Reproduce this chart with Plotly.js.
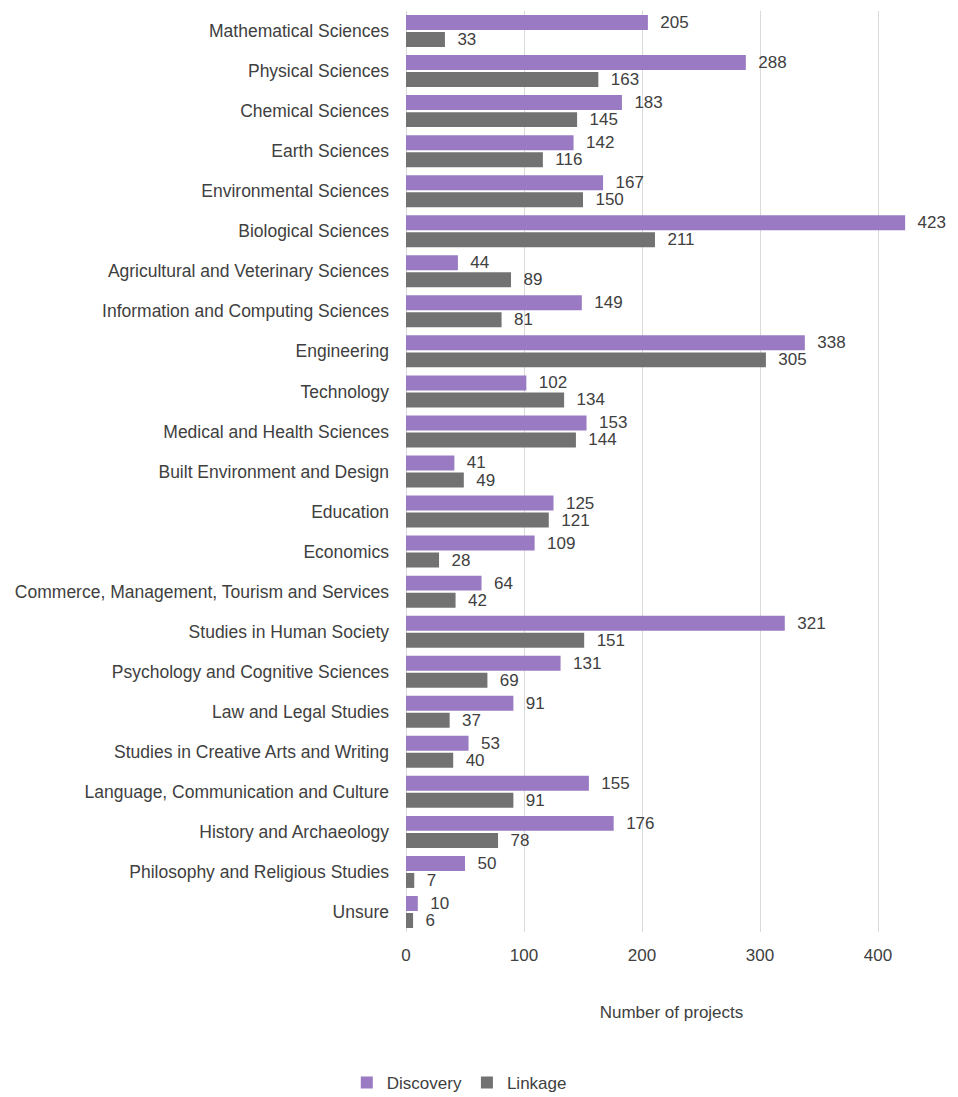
<!DOCTYPE html>
<html>
<head>
<meta charset="utf-8">
<script src="https://cdn.plot.ly/plotly-3.0.1.min.js"></script>
<style>html,body{margin:0;padding:0;background:#fff;}#chart{width:958px;height:1097px;}</style>
</head>
<body>
<div id="chart"></div>
<script>
const categories = [
  "Mathematical Sciences",
  "Physical Sciences",
  "Chemical Sciences",
  "Earth Sciences",
  "Environmental Sciences",
  "Biological Sciences",
  "Agricultural and Veterinary Sciences",
  "Information and Computing Sciences",
  "Engineering",
  "Technology",
  "Medical and Health Sciences",
  "Built Environment and Design",
  "Education",
  "Economics",
  "Commerce, Management, Tourism and Services",
  "Studies in Human Society",
  "Psychology and Cognitive Sciences",
  "Law and Legal Studies",
  "Studies in Creative Arts and Writing",
  "Language, Communication and Culture",
  "History and Archaeology",
  "Philosophy and Religious Studies",
  "Unsure"
];
const discovery = [205, 288, 183, 142, 167, 423, 44, 149, 338, 102, 153, 41, 125, 109, 64, 321, 131, 91, 53, 155, 176, 50, 10];
const linkage   = [33, 163, 145, 116, 150, 211, 89, 81, 305, 134, 144, 49, 121, 28, 42, 151, 69, 37, 40, 91, 78, 7, 6];
const xTicks = [0, 100, 200, 300, 400];

const fontFam = "Liberation Sans, Arial, sans-serif";
const textCol = "#404040";

const traces = [
  {
    type: "bar", orientation: "h", name: "Discovery",
    y: categories, x: discovery,
    marker: {color: "#9a7bc3"},
    text: discovery.map(String),
    texttemplate: "\u00a0\u00a0%{x}",
    textposition: "outside",
    constraintext: "none",
    textfont: {family: fontFam, size: 17, color: textCol},
    cliponaxis: false
  },
  {
    type: "bar", orientation: "h", name: "Linkage",
    y: categories, x: linkage,
    marker: {color: "#727272"},
    text: linkage.map(String),
    texttemplate: "\u00a0\u00a0%{x}",
    textposition: "outside",
    constraintext: "none",
    textfont: {family: fontFam, size: 17, color: textCol},
    cliponaxis: false
  }
];

const layout = {
  width: 958, height: 1097,
  margin: {l: 406, r: 21, t: 11, b: 165, autoexpand: false},
  paper_bgcolor: "#ffffff", plot_bgcolor: "#ffffff",
  font: {family: fontFam, size: 17, color: textCol},
  barmode: "group",
  bargap: 0.15,
  bargroupgap: 0.12,
  showlegend: true,
  legend: {
    orientation: "h",
    xref: "container", yref: "container",
    x: 0.362, xanchor: "left", y: 0.0128, yanchor: "middle",
    font: {family: fontFam, size: 17, color: textCol},
    itemwidth: 30, traceorder: "normal"
  },
  xaxis: {
    range: [0, 450],
    automargin: false,
    tickvals: xTicks,
    ticktext: xTicks.map(String),
    showgrid: true, gridcolor: "#d9d9d9", gridwidth: 1,
    zeroline: true, zerolinecolor: "#d9d9d9", zerolinewidth: 1,
    showline: false, ticks: "",
    ticklabelstandoff: 11,
    tickfont: {family: fontFam, size: 17, color: textCol},
    title: {text: "Number of projects", standoff: 42, font: {family: fontFam, size: 17, color: textCol}},
    fixedrange: true
  },
  yaxis: {
    autorange: "reversed",
    automargin: false,
    type: "category",
    showgrid: false, zeroline: false, showline: false,
    ticks: "", ticklabelstandoff: 16,
    tickfont: {family: fontFam, size: 17.5, color: textCol},
    fixedrange: true
  }
};

Plotly.newPlot("chart", traces, layout, {displayModeBar: false, staticPlot: true});
</script>
</body>
</html>
